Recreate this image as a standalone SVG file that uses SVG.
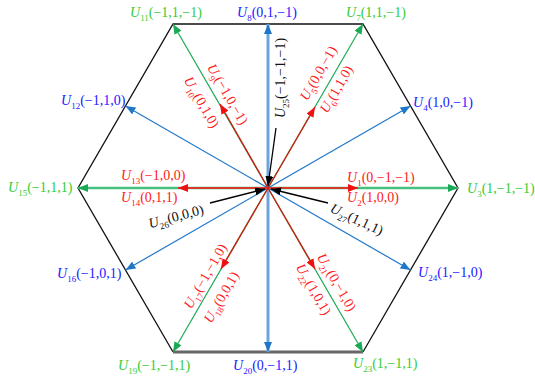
<svg xmlns="http://www.w3.org/2000/svg" width="535" height="377" viewBox="0 0 535 377">
<defs>
<style>
text{font-family:"Liberation Serif","Times New Roman",serif;font-size:14px}
.g{fill:#33cc33}.b{fill:#2020ff}.r{fill:#ff1a1a}.k{fill:#111}
.i{font-style:italic}
.s{font-size:9px}
.lg{stroke:#1aaa55;stroke-width:1.2;fill:none}
.lg2{stroke:#45c07f;stroke-width:2.4;fill:none}
.lb{stroke:#1f77c8;stroke-width:1.2;fill:none}
.lb2{stroke:#6aa6dd;stroke-width:3;fill:none}
.lr{stroke:#cc2211;stroke-width:1.4;fill:none}
.lr2{stroke:#d63a2a;stroke-width:2.2;fill:none}
.lk{stroke:#000;stroke-width:1.3;fill:none}
</style>
<marker id="ag" viewBox="0 0 10 8" refX="10" refY="4" markerWidth="10" markerHeight="8" markerUnits="userSpaceOnUse" orient="auto"><path d="M0,0L10,4L0,8z" fill="#1aaa55"/></marker>
<marker id="ab" viewBox="0 0 10 8" refX="10" refY="4" markerWidth="10" markerHeight="8" markerUnits="userSpaceOnUse" orient="auto"><path d="M0,0L10,4L0,8z" fill="#1f77c8"/></marker>
<marker id="ar" viewBox="0 0 10 8" refX="10" refY="4" markerWidth="10" markerHeight="8" markerUnits="userSpaceOnUse" orient="auto"><path d="M0,0L10,4L0,8z" fill="#ee1111"/></marker>
<marker id="ak" viewBox="0 0 10 8" refX="10" refY="4" markerWidth="10" markerHeight="8" markerUnits="userSpaceOnUse" orient="auto"><path d="M0,0L10,4L0,8z" fill="#000"/></marker>
</defs>
<rect width="535" height="377" fill="#fff"/>
<g id="hexagon">
<polyline points="173,352 78,188 173,24 363,24 458,188 363,352" fill="none" stroke="#111" stroke-width="1.3"/>
<line x1="173" y1="352" x2="363" y2="352" stroke="#666" stroke-width="3"/>
</g>
<g id="connectors">
<line class="lg2" x1="268" y1="188" x2="458" y2="188" marker-end="url(#ag)"/>
<line class="lg2" x1="268" y1="188" x2="78" y2="188" marker-end="url(#ag)"/>
<line class="lg" x1="268" y1="188" x2="363" y2="24" marker-end="url(#ag)"/>
<line class="lg" x1="268" y1="188" x2="173" y2="24" marker-end="url(#ag)"/>
<line class="lg" x1="268" y1="188" x2="173" y2="352" marker-end="url(#ag)"/>
<line class="lg" x1="268" y1="188" x2="363" y2="352" marker-end="url(#ag)"/>
<line class="lb2" x1="268" y1="188" x2="268" y2="24" marker-end="url(#ab)"/>
<line class="lb2" x1="268" y1="188" x2="268" y2="352" marker-end="url(#ab)"/>
<line class="lb" x1="268" y1="188" x2="410.5" y2="106" marker-end="url(#ab)"/>
<line class="lb" x1="268" y1="188" x2="125.5" y2="106" marker-end="url(#ab)"/>
<line class="lb" x1="268" y1="188" x2="125.5" y2="270" marker-end="url(#ab)"/>
<line class="lb" x1="268" y1="188" x2="410.5" y2="270" marker-end="url(#ab)"/>
<line class="lr2" x1="268" y1="188" x2="358" y2="188" marker-end="url(#ar)"/>
<line class="lr2" x1="268" y1="188" x2="178" y2="188" marker-end="url(#ar)"/>
<line class="lr" x1="268" y1="188" x2="315" y2="107" marker-end="url(#ar)"/>
<line class="lr" x1="268" y1="188" x2="220" y2="104" marker-end="url(#ar)"/>
<line class="lr" x1="268" y1="188" x2="221" y2="269" marker-end="url(#ar)"/>
<line class="lr" x1="268" y1="188" x2="315" y2="269" marker-end="url(#ar)"/>
<line class="lk" x1="276" y1="128" x2="268" y2="186" marker-end="url(#ak)"/>
<line class="lk" x1="210" y1="203" x2="265" y2="189" marker-end="url(#ak)"/>
<line class="lk" x1="328" y1="203" x2="271" y2="189" marker-end="url(#ak)"/>
</g>
<g id="U11"><text class="g" x="130" y="17"><tspan class="i">U</tspan><tspan class="s" dy="4">11</tspan><tspan dy="-4">(−1,1,−1)</tspan></text></g>
<g id="U8"><text class="b" x="237" y="17"><tspan class="i">U</tspan><tspan class="s" dy="4">8</tspan><tspan dy="-4">(0,1,−1)</tspan></text></g>
<g id="U7"><text class="g" x="346" y="17"><tspan class="i">U</tspan><tspan class="s" dy="4">7</tspan><tspan dy="-4">(1,1,−1)</tspan></text></g>
<g id="U12"><text class="b" x="61" y="105"><tspan class="i">U</tspan><tspan class="s" dy="4">12</tspan><tspan dy="-4">(−1,1,0)</tspan></text></g>
<g id="U15"><text class="g" x="8" y="192"><tspan class="i">U</tspan><tspan class="s" dy="4">15</tspan><tspan dy="-4">(−1,1,1)</tspan></text></g>
<g id="U13"><text class="r" x="121" y="180"><tspan class="i">U</tspan><tspan class="s" dy="4">13</tspan><tspan dy="-4">(−1,0,0)</tspan></text></g>
<g id="U14"><text class="r" x="121" y="202"><tspan class="i">U</tspan><tspan class="s" dy="4">14</tspan><tspan dy="-4">(0,1,1)</tspan></text></g>
<g id="U4"><text class="b" x="413" y="107"><tspan class="i">U</tspan><tspan class="s" dy="4">4</tspan><tspan dy="-4">(1,0,−1)</tspan></text></g>
<g id="U1"><text class="r" x="347" y="182"><tspan class="i">U</tspan><tspan class="s" dy="4">1</tspan><tspan dy="-4">(0,−1,−1)</tspan></text></g>
<g id="U2"><text class="r" x="347" y="202"><tspan class="i">U</tspan><tspan class="s" dy="4">2</tspan><tspan dy="-4">(1,0,0)</tspan></text></g>
<g id="U3"><text class="g" x="467" y="193"><tspan class="i">U</tspan><tspan class="s" dy="4">3</tspan><tspan dy="-4">(1,−1,−1)</tspan></text></g>
<g id="U16"><text class="b" x="57" y="278"><tspan class="i">U</tspan><tspan class="s" dy="4">16</tspan><tspan dy="-4">(−1,0,1)</tspan></text></g>
<g id="U19"><text class="g" x="118" y="370"><tspan class="i">U</tspan><tspan class="s" dy="4">19</tspan><tspan dy="-4">(−1,−1,1)</tspan></text></g>
<g id="U20"><text class="b" x="233" y="370"><tspan class="i">U</tspan><tspan class="s" dy="4">20</tspan><tspan dy="-4">(0,−1,1)</tspan></text></g>
<g id="U23"><text class="g" x="353" y="368"><tspan class="i">U</tspan><tspan class="s" dy="4">23</tspan><tspan dy="-4">(1,−1,1)</tspan></text></g>
<g id="U24"><text class="b" x="418" y="277"><tspan class="i">U</tspan><tspan class="s" dy="4">24</tspan><tspan dy="-4">(1,−1,0)</tspan></text></g>
<g id="U9"><text class="r" text-anchor="middle" transform="translate(228,94) rotate(60)" y="5"><tspan class="i">U</tspan><tspan class="s" dy="4">9</tspan><tspan dy="-4">(−1,0,−1)</tspan></text></g>
<g id="U10"><text class="r" text-anchor="middle" transform="translate(202,102) rotate(60)" y="5"><tspan class="i">U</tspan><tspan class="s" dy="4">10</tspan><tspan dy="-4">(0,1,0)</tspan></text></g>
<g id="U5"><text class="r" text-anchor="middle" transform="translate(318,73) rotate(-60)" y="5"><tspan class="i">U</tspan><tspan class="s" dy="4">5</tspan><tspan dy="-4">(0,0,−1)</tspan></text></g>
<g id="U6"><text class="r" text-anchor="middle" transform="translate(336,89) rotate(-60)" y="5"><tspan class="i">U</tspan><tspan class="s" dy="4">6</tspan><tspan dy="-4">(1,1,0)</tspan></text></g>
<g id="U17"><text class="r" text-anchor="middle" transform="translate(205,276) rotate(-60)" y="5"><tspan class="i">U</tspan><tspan class="s" dy="4">17</tspan><tspan dy="-4">(−1,−1,0)</tspan></text></g>
<g id="U18"><text class="r" text-anchor="middle" transform="translate(221,297) rotate(-60)" y="5"><tspan class="i">U</tspan><tspan class="s" dy="4">18</tspan><tspan dy="-4">(0,0,1)</tspan></text></g>
<g id="U21"><text class="r" text-anchor="middle" transform="translate(337,282) rotate(60)" y="5"><tspan class="i">U</tspan><tspan class="s" dy="4">21</tspan><tspan dy="-4">(0,−1,0)</tspan></text></g>
<g id="U22"><text class="r" text-anchor="middle" transform="translate(314,289) rotate(60)" y="5"><tspan class="i">U</tspan><tspan class="s" dy="4">22</tspan><tspan dy="-4">(1,0,1)</tspan></text></g>
<g id="U25"><text class="k" text-anchor="middle" transform="translate(280,78) rotate(-90)" y="5"><tspan class="i">U</tspan><tspan class="s" dy="4">25</tspan><tspan dy="-4">(−1,−1,−1)</tspan></text></g>
<g id="U26"><text class="k" text-anchor="middle" transform="translate(176,216) rotate(-15)" y="5"><tspan class="i">U</tspan><tspan class="s" dy="4">26</tspan><tspan dy="-4">(0,0,0)</tspan></text></g>
<g id="U27"><text class="k" text-anchor="middle" transform="translate(357,219) rotate(25)" y="5"><tspan class="i">U</tspan><tspan class="s" dy="4">27</tspan><tspan dy="-4">(1,1,1)</tspan></text></g>
</svg>
